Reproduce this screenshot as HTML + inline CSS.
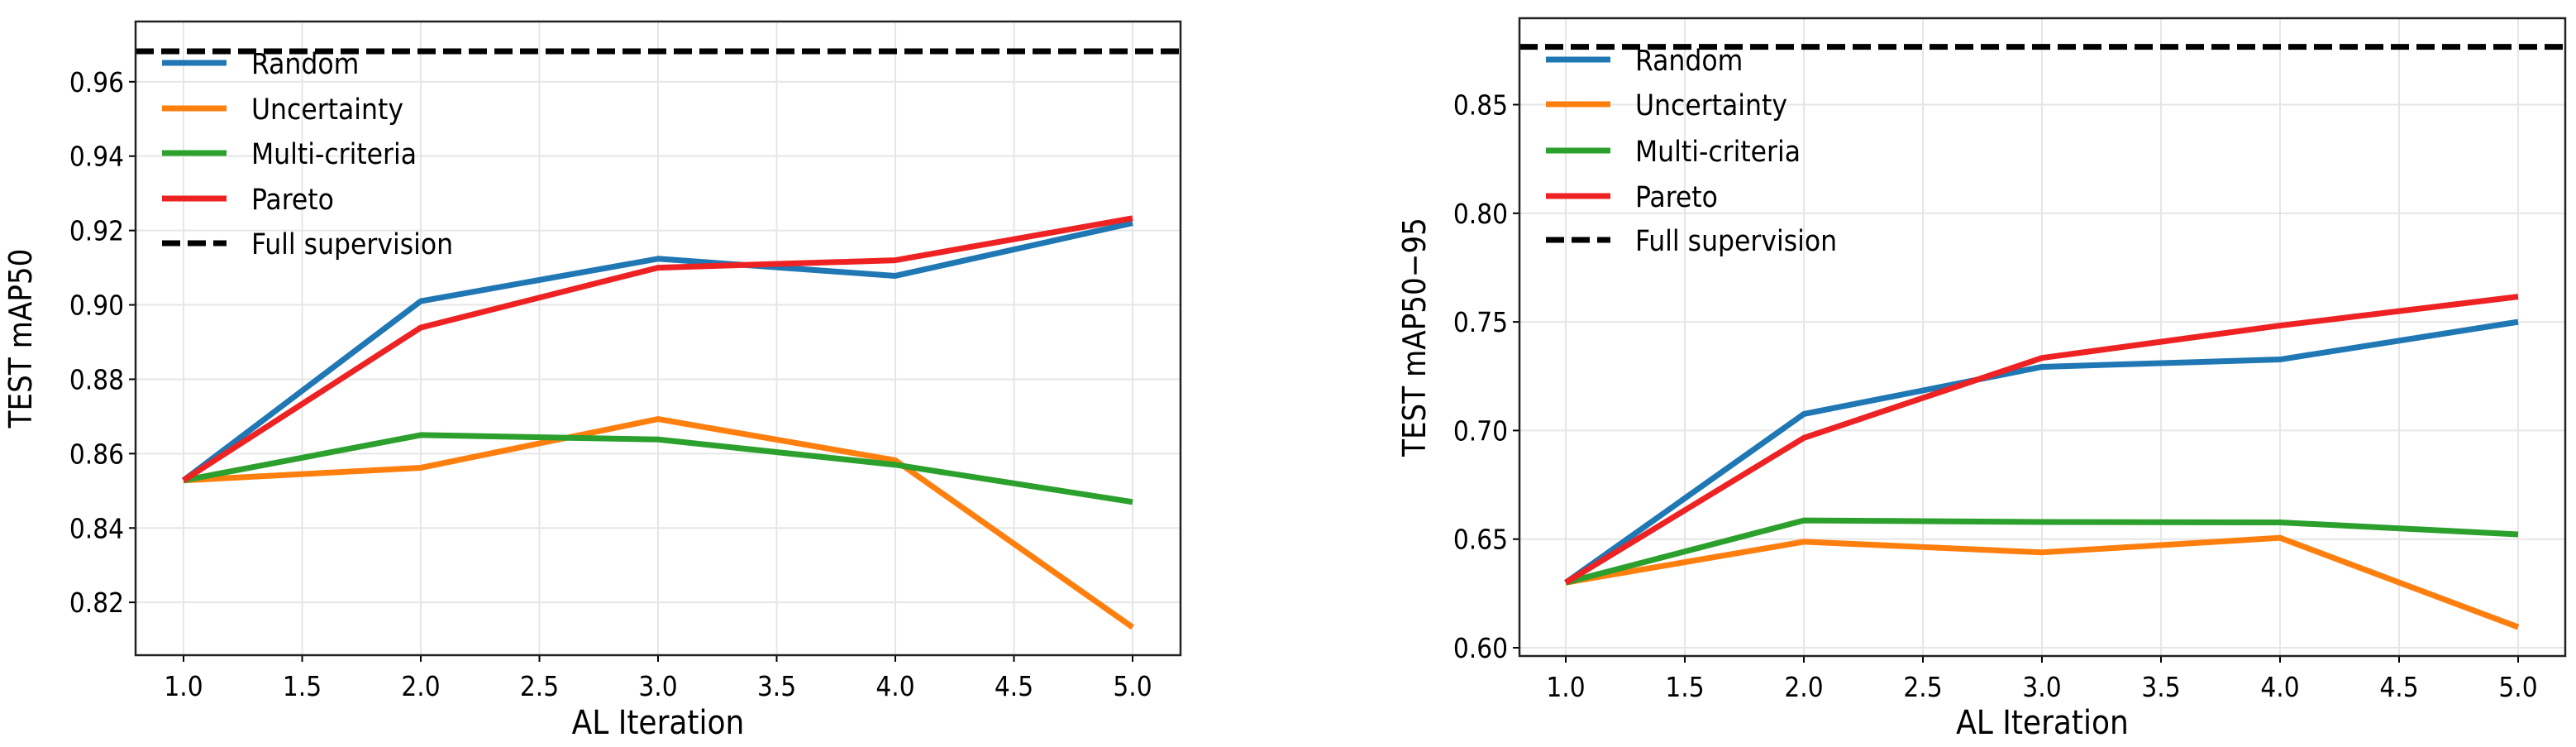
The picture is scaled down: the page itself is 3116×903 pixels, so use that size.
<!DOCTYPE html>
<html><head><meta charset="utf-8"><style>
body{margin:0;background:#fff;}
svg{display:block;}
text{font-family:"DejaVu Sans Condensed","DejaVu Sans","Liberation Sans",sans-serif;fill:#000;}
</style></head><body>
<svg id="chart" width="3116" height="903"></svg>
<script>
const iterations=[1,2,3,4,5];
const xTicks=[1.0,1.5,2.0,2.5,3.0,3.5,4.0,4.5,5.0];
const seriesNames=["Random","Uncertainty","Multi-criteria","Pareto"];
const seriesColors=["#1f77b4","#ff7f0e","#2ca02c","#ee2222"];
const leftRandom=[0.8528,0.901,0.9124,0.9078,0.922];
const leftUncertainty=[0.8528,0.8562,0.8693,0.8582,0.8133];
const leftMulti=[0.8528,0.865,0.8638,0.857,0.847];
const leftPareto=[0.8528,0.8939,0.910,0.912,0.9233];
const leftFull=0.9682;
const leftYTicks=[0.82,0.84,0.86,0.88,0.90,0.92,0.94,0.96];
const rightRandom=[0.630,0.7076,0.7293,0.7327,0.750];
const rightUncertainty=[0.630,0.6488,0.6439,0.6506,0.6095];
const rightMulti=[0.630,0.6586,0.6579,0.6577,0.6522];
const rightPareto=[0.630,0.6966,0.7334,0.7483,0.7616];
const rightFull=0.8766;
const rightYTicks=[0.60,0.65,0.70,0.75,0.80,0.85];

const NS="http://www.w3.org/2000/svg";
const svg=document.getElementById('chart');
function mk(tag,attrs,parent){const e=document.createElementNS(NS,tag);for(const k in attrs)e.setAttribute(k,attrs[k]);(parent||svg).appendChild(e);return e;}

function panel(cfg){
  const g=mk('g',{});
  
  
  const L=cfg.box[0],T=cfg.box[1],R=cfg.box[2],B=cfg.box[3];
  const xs=v=>cfg.x1px+(v-1)/(4)*(cfg.x5px-cfg.x1px);
  const ys=v=>B-(v-cfg.ymin)/(cfg.ymax-cfg.ymin)*(B-T);
  xTicks.forEach(t=>{
    const l=mk('line',{x1:xs(t),x2:xs(t),y1:T,y2:B,stroke:'#e6e6e6','stroke-width':2},g);
    
    
    mk('line',{x1:xs(t),x2:xs(t),y1:B,y2:B+8,stroke:'#000','stroke-width':2},g);
    const tx=mk('text',{x:xs(t),y:B+49,'text-anchor':'middle','font-size':33},g);
    tx.textContent=t.toFixed(1);
    
    
  });
  cfg.yTicks.forEach(t=>{
    const l=mk('line',{x1:L,x2:R,y1:ys(t),y2:ys(t),stroke:'#e6e6e6','stroke-width':2},g);
    
    
    mk('line',{x1:L-8,x2:L,y1:ys(t),y2:ys(t),stroke:'#000','stroke-width':2},g);
    const tx=mk('text',{x:L-14,y:ys(t)+12,'text-anchor':'end','font-size':33},g);
    tx.textContent=t.toFixed(2);
    
    
  });
  const fs=mk('line',{x1:L,x2:R,y1:ys(cfg.full),y2:ys(cfg.full),stroke:'#000','stroke-width':7,'stroke-dasharray':'22,9'},g);
  
  
  cfg.series.forEach((vals,i)=>{
    const pts=vals.map((v,j)=>xs(iterations[j])+','+ys(v)).join(' ');
    const p=mk('polyline',{points:pts,fill:'none',stroke:seriesColors[i],'stroke-width':7,'stroke-linejoin':'round'},g);
    
    
  });
  const fr=mk('rect',{x:L,y:T,width:R-L,height:B-T,fill:'none',stroke:'#222','stroke-width':2.5},g);
  
  
  const lg=mk('g',{},g);
  
  
  const names=seriesNames.concat(['Full supervision']);
  names.forEach((n,i)=>{
    const y=cfg.legY[i];
    const attrs={x1:cfg.legX,x2:cfg.legX+78,y1:y,y2:y,stroke:i<4?seriesColors[i]:'#000','stroke-width':7};
    if(i===4)attrs['stroke-dasharray']='22,9';
    const ln=mk('line',attrs,lg);
    
    
    const tx=mk('text',{x:cfg.legX+108,y:y+13,'font-size':35},lg);
    tx.textContent=n;
    
    
  });
  const xl=mk('text',{x:(L+R)/2,y:887,'text-anchor':'middle','font-size':40},g);
  xl.textContent='AL Iteration';
  
  
  const yl=mk('text',{x:0,y:0,'text-anchor':'middle','font-size':38,'font-family':'DejaVu Sans, sans-serif',transform:'translate('+cfg.ylx+','+((T+B)/2)+') rotate(-90)'},g);
  yl.textContent=cfg.ylabel;
  
  
}
panel({name:'left-panel',box:[164,26,1428,792],x1px:222,x5px:1370,ymin:0.8058,ymax:0.9762,yTicks:leftYTicks,full:leftFull,
  series:[leftRandom,leftUncertainty,leftMulti,leftPareto],legX:196,legY:[76,131,185,240,294],ylabel:'TEST mAP50',ylx:38});
panel({name:'right-panel',box:[1838,22,3103,793],x1px:1894,x5px:3046,ymin:0.5962,ymax:0.8898,yTicks:rightYTicks,full:rightFull,
  series:[rightRandom,rightUncertainty,rightMulti,rightPareto],legX:1870,legY:[72,126,182,237,290],ylabel:'TEST mAP50\u221295',ylx:1724});
</script>
</body></html>
